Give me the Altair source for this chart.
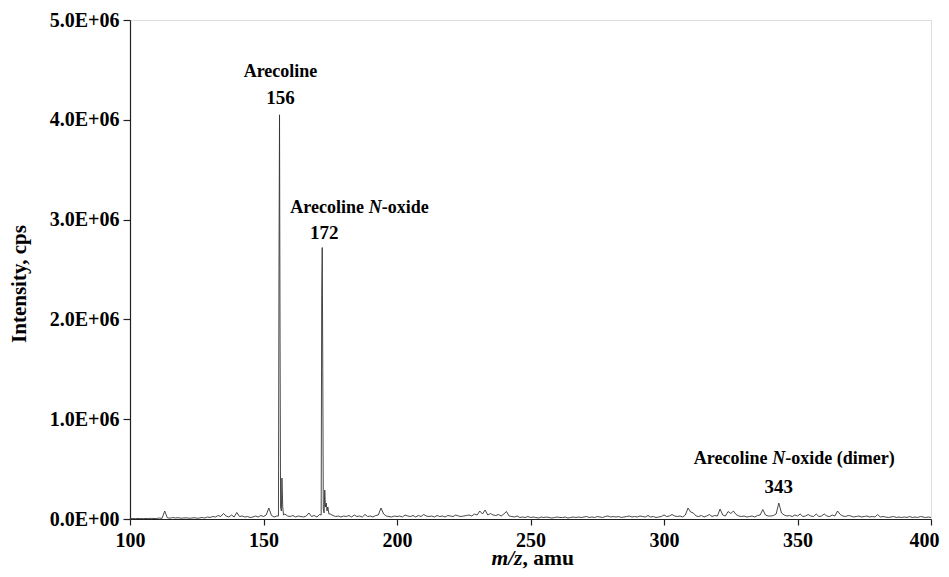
import altair as alt
import pandas as pd

# ---- data (intensity values in units of 1e4 cps) ----
noise_lo = [  # m/z 100..155
    0.5, 0.5, 0.4, 0.5, 0.5, 0.4, 0.5, 0.5, 0.6, 0.5,
    0.5, 1.0, 0.6, 8.0, 1.2, 0.8, 1.5, 1.0, 1.3, 0.8,
    1.0, 1.2, 0.8, 0.9, 1.3, 0.8, 1.0, 1.5, 1.0, 2.0,
    1.5, 2.5, 2.0, 3.5, 2.5, 5.5, 3.0, 2.0, 4.0, 2.0,
    6.5, 2.5, 3.0, 2.0, 2.5, 1.5, 2.0, 3.0, 2.0, 3.5,
    2.5, 4.0, 11.0, 3.5, 2.0, 3.0,
]
peak156_mz = [155.6, 155.8, 156.0, 156.2, 156.4, 156.7, 156.9, 157.2, 157.5]
peak156_int = [3.0, 252.0, 405.0, 180.0, 12.0, 8.0, 41.0, 12.0, 4.0]
noise_mid = [  # m/z 158..171
    5.0, 3.0, 2.5, 3.5, 2.0, 3.0, 2.5, 2.0, 3.0, 6.0, 2.5, 3.5, 2.0, 4.5,
]
peak172_mz = [171.6, 171.8, 172.0, 172.2, 172.4, 172.7, 172.95, 173.2, 173.5, 173.8, 174.1, 174.5]
peak172_int = [4.0, 225.0, 272.0, 150.0, 10.0, 6.0, 29.0, 12.0, 16.0, 8.0, 12.0, 5.0]
noise_hi = [  # m/z 175..400
    5.0, 3.5, 2.5, 3.0, 2.0,
    3.0, 2.5, 3.5, 2.0, 4.0, 2.5, 3.0, 2.0, 4.5, 2.5,
    3.0, 2.0, 3.5, 4.0, 11.0, 5.0, 3.0, 2.5, 2.0, 3.0,
    2.5, 3.0, 2.0, 4.0, 3.0, 2.5, 3.5, 2.0, 3.5, 2.5,
    4.5, 3.0, 2.5, 3.0, 2.0, 3.5, 2.5, 3.0, 2.0, 3.5,
    3.0, 2.5, 4.0, 3.0, 2.5, 3.0, 3.5, 4.0, 3.0, 5.0,
    4.0, 8.0, 5.0, 9.0, 4.0, 5.5, 4.0, 3.5, 4.5, 3.0,
    5.0, 7.5, 3.0, 2.5, 2.0, 3.0, 1.5, 2.0, 1.5, 2.5,
    1.5, 2.0, 1.5, 1.0, 2.0, 1.5, 2.0, 1.5, 1.0, 1.5,
    2.0, 1.5, 1.5, 2.0, 1.0, 1.5, 2.0, 1.5, 2.0, 1.5,
    2.0, 2.5, 1.5, 2.0, 1.5, 2.5, 2.0, 1.5, 2.5, 3.0,
    2.0, 2.5, 2.0, 2.5, 1.5, 2.0, 2.5, 3.0, 2.0, 2.5,
    2.0, 3.0, 2.5, 2.0, 3.5, 2.0, 2.5, 1.5, 2.0, 2.5,
    4.0, 2.5, 3.0, 4.5, 3.0, 2.5, 3.0, 2.0, 4.0, 11.0,
    7.0, 6.0, 3.0, 2.5, 3.5, 2.0, 3.0, 4.5, 2.5, 3.5,
    3.0, 10.0, 4.0, 3.0, 7.5, 5.5, 8.0, 4.5, 3.0, 2.5,
    3.0, 2.0, 2.5, 3.0, 2.0, 3.5, 4.0, 9.5, 4.0, 3.0,
    3.0, 3.5, 5.0, 16.0, 6.0, 4.0, 3.0, 3.5, 2.5, 4.0,
    3.0, 5.0, 2.5, 3.0, 4.5, 3.0, 2.5, 5.0, 2.5, 3.0,
    5.0, 3.0, 2.5, 4.0, 3.0, 8.0, 4.5, 3.0, 2.5, 3.5,
    3.0, 2.0, 2.5, 3.0, 2.0, 2.5, 3.0, 2.0, 2.5, 2.0,
    4.5, 2.0, 2.5, 2.0, 1.5, 2.0, 2.5, 1.5, 2.0, 1.5,
    2.0, 1.5, 2.5, 1.5, 2.0, 1.5, 2.5, 2.0, 1.5, 2.0,
    1.5,
]

peak_mz = [156, 172, 343]
peak_int = [405.0, 272.0, 16.0]

x_ticks = [100, 150, 200, 250, 300, 350, 400]
y_ticks = [0, 1e6, 2e6, 3e6, 4e6, 5e6]

# ---- build table ----
mz = (list(range(100, 156)) + peak156_mz + list(range(158, 172)) +
      peak172_mz + list(range(175, 401)))
inten = noise_lo + peak156_int + noise_mid + peak172_int + noise_hi
df = pd.DataFrame({"mz": mz, "intensity": [v * 1e4 for v in inten]})
peaks = pd.DataFrame({"mz": peak_mz, "intensity": [v * 1e4 for v in peak_int]})

FONT = "Liberation Serif"

xscale = alt.Scale(domain=[100, 400], nice=False, zero=False)
yscale = alt.Scale(domain=[0, 5e6], nice=False)

line = alt.Chart(df).mark_line(color="#333333", strokeWidth=0.9).encode(
    x=alt.X("mz:Q", scale=xscale, axis=alt.Axis(
        values=x_ticks, format="d", title=None, grid=False,
        labelFont=FONT, labelFontSize=20, labelFontWeight="bold", labelColor="black",
        tickSize=6, tickColor="#222", domainColor="#222", tickWidth=1.2, domainWidth=1.2,
        labelPadding=5, labelFlush=False,
        labelOffset={"condition": {"test": "datum.value == 400", "value": -7}, "value": 0})),
    y=alt.Y("intensity:Q", scale=yscale, axis=alt.Axis(
        values=y_ticks, title=None, grid=False,
        labelExpr="datum.value == 0 ? '0.0E+00' : replace(format(datum.value, '.1e'), 'e+', 'E+0')",
        labelFont=FONT, labelFontSize=20, labelFontWeight="bold", labelColor="black",
        tickSize=7, tickColor="#222", domainColor="#222", tickWidth=1.2, domainWidth=1.2,
        labelPadding=4)),
)


def label(peak, text, dx, dy, size=18, align="center", italic=False):
    return alt.Chart(peaks).transform_filter(alt.datum.mz == peak).mark_text(
        text=text, font=FONT, fontSize=size, fontWeight="bold",
        fontStyle="italic" if italic else "normal", color="black",
        align=align, baseline="alphabetic", dx=dx, dy=dy,
    ).encode(x=alt.X("mz:Q", scale=xscale), y=alt.Y("intensity:Q", scale=yscale))


labels = [
    label(156, "Arecoline", 1, -38),
    label(156, "156", 1, -11, size=19),
    label(172, "Arecoline", -32, -35, align="left"),
    label(172, "N", 46.5, -35, align="left", italic=True),
    label(172, "-oxide", 59.5, -35, align="left"),
    label(172, "172", 2, -8.5, size=19),
    label(343, "Arecoline", -85, -39, align="left"),
    label(343, "N", -6.5, -39, align="left", italic=True),
    label(343, "-oxide (dimer)", 6.5, -39, align="left"),
    label(343, "343", 0, -10, size=19),
]

one = pd.DataFrame({"k": [0]})
xt1 = alt.Chart(one).mark_text(text="m/z", font=FONT, fontSize=21.5, fontWeight="bold",
                               fontStyle="italic", align="right", baseline="alphabetic",
                               color="black").encode(x=alt.value(392.5), y=alt.value(545))
xt2 = alt.Chart(one).mark_text(text=", amu", font=FONT, fontSize=21.5, fontWeight="bold",
                               align="left", baseline="alphabetic",
                               color="black").encode(x=alt.value(392.5), y=alt.value(545))
yt = alt.Chart(one).mark_text(text="Intensity, cps", font=FONT, fontSize=21, fontWeight="bold",
                              align="center", baseline="middle", angle=270,
                              color="black").encode(x=alt.value(-110), y=alt.value(264))

chart = alt.layer(line, *labels, xt1, xt2, yt).properties(
    width=801, height=499,
    autosize=alt.AutoSizeParams(type="none"),
    padding={"left": 122, "top": 12, "right": 10, "bottom": 50},
).configure_view(stroke=None).configure(background="white")

chart.save("out.html", embed_options={"renderer": "svg", "actions": False})
